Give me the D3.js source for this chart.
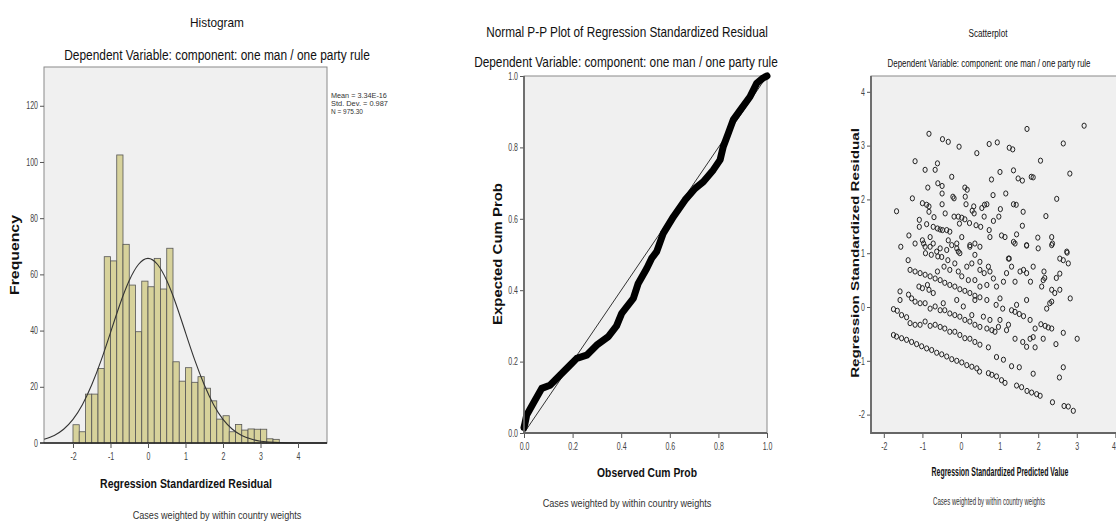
<!DOCTYPE html>
<html>
<head>
<meta charset="utf-8">
<script src="https://cdn.jsdelivr.net/npm/d3@7"></script>
<style>
  body { margin: 0; background: #fff; }
  svg { display: block; }
</style>
</head>
<body>
<div id="chart"></div>
<script>
// ---------------- datos ----------------
// Histograma de residuos
const histBinStart = -2;
const histBinWidth = 1 / 6;
const histCounts = [6.5, 4, 17.4, 17.4, 26.5, 66.3, 64.8, 102.5, 70.7, 56.2, 39.6,
  57.6, 55.6, 65.7, 54.8, 69.3, 28.9, 22, 26.8, 21.6, 23.6, 19.5, 15, 8.5, 9.7,
  4, 6.6, 4.6, 5, 4.9, 4.9, 1.5, 1.3];
const histStats = ["Mean = 3.34E-16", "Std. Dev. = 0.987", "N = 975.30"];
// curva normal [x, frecuencia]
const normalCurve = [[-2.77, 1.3], [-2.5, 2.7], [-2.25, 4.9], [-2, 8.4], [-1.75, 13.6],
  [-1.5, 20.7], [-1.25, 29.4], [-1, 39.3], [-0.75, 49.3], [-0.5, 57.8], [-0.25, 63.6],
  [0, 65.7], [0.25, 63.6], [0.5, 57.8], [0.75, 49.3], [1, 39.3], [1.25, 29.4],
  [1.5, 20.7], [1.75, 13.6], [2, 8.4], [2.25, 4.9], [2.5, 2.7], [2.75, 1.4],
  [3, 0.65], [3.5, 0.12], [4, 0.02], [4.77, 0]];
const histXTicks = [-2, -1, 0, 1, 2, 3, 4];
const histYTicks = [0, 20, 40, 60, 80, 100, 120];

// Grafico P-P
const ppObserved = [0, 0.004, 0.011, 0.038, 0.073, 0.107, 0.148, 0.189, 0.217, 0.258,
  0.299, 0.347, 0.381, 0.402, 0.45, 0.47, 0.505, 0.525, 0.546, 0.573, 0.615, 0.663,
  0.704, 0.738, 0.779, 0.807, 0.82, 0.841, 0.861, 0.896, 0.93, 0.958, 0.985, 1.0];
const ppExpected = [0.015, 0.027, 0.05, 0.083, 0.125, 0.134, 0.162, 0.19, 0.209, 0.218,
  0.246, 0.27, 0.3, 0.335, 0.377, 0.419, 0.461, 0.489, 0.508, 0.559, 0.606, 0.653,
  0.685, 0.704, 0.737, 0.765, 0.802, 0.84, 0.877, 0.91, 0.942, 0.98, 0.995, 1.0];
const ppTicks = [0, 0.2, 0.4, 0.6, 0.8, 1];

// Dispersion: [valor predicho, residuo]
const scatterPoints = [
  [-0.83,3.22],[-0.48,3.12],[-0.33,3.07],[-0.05,2.98],[0.41,2.86],[0.73,3.03],[0.94,3.06],
  [1.25,2.96],[1.34,2.93],[1.71,3.31],[2.06,2.72],[2.65,3.04],[3.19,3.37],
  [-1.19,2.71],[-0.61,2.67],[-0.93,2.55],[-0.67,2.55],[-0.24,2.42],[-0.86,2.22],[-0.6,2.3],
  [-0.49,2.25],[0.1,2.22],[0.16,2.18],[0.79,2.37],[1.01,2.51],[1.36,2.54],[1.48,2.39],
  [1.59,2.35],[1.82,2.42],[1.87,2.41],[2.82,2.48],
  [-1.67,1.78],[-1.26,2.02],[-1,1.93],[-0.89,1.9],[-0.83,1.87],[-0.83,1.77],[-0.7,1.67],
  [-0.49,2.11],[-0.49,1.91],[-0.41,1.74],[-0.21,2.05],[-0.18,2.02],[0.11,2.05],[0.13,1.91],
  [0.33,1.87],[0.29,1.79],[0.54,1.84],[0.61,1.9],[0.67,1.91],[0.83,2.08],[1.16,2.11],
  [1.36,1.91],[1.43,1.9],[1.02,1.82],[0.98,1.68],[1.61,1.77],[2.48,2.01],[2.2,1.69],
  [-1.08,1.62],[-1.08,1.49],[-0.89,1.54],[-0.72,1.49],[-0.61,1.46],[-0.54,1.44],[-0.48,1.43],
  [-0.37,1.43],[-0.29,1.4],[-0.18,1.68],[-0.07,1.68],[0.02,1.66],[0.1,1.63],[0.22,1.56],
  [-0.04,1.55],[0.34,1.74],[0.39,1.52],[0.51,1.49],[0.6,1.68],[0.84,1.6],[0.73,1.43],
  [0.75,1.3],[1.05,1.33],[1.14,1.3],[1.44,1.35],[1.36,1.21],[1.59,1.51],[1.7,1.14],
  [1.99,1.29],[2.35,1.3],[2.37,1.18],
  [-1.35,1.33],[-1.56,1.12],[-1.19,1.18],[-1,1.24],[-0.93,1.12],[-0.8,1.3],[-0.72,1.18],
  [-0.54,1.09],[-0.33,1.24],[-0.24,1.15],[-0.11,1.18],[-0.07,1.03],[0.02,1.3],[0.23,1.12],
  [0.36,1.18],[0.49,1.12],[2.74,1.03],[-0.92,1],[-0.77,0.97],[-0.6,0.94],
  [-0.97,1.18],[-0.8,1.12],[-0.63,1.03],[-0.5,0.93],[-0.37,1.06],[-0.11,1.09],[-0.03,1],
  [0.23,1.15],[0.36,0.97],[0.49,0.84],[0.71,0.75],[0.84,0.53],[1.1,0.47],[1.23,0.9],
  [1.4,1.18],[1.7,1.15],[2,1.09],[2.35,1.15],[2.13,0.5],[2.56,0.62],[2.3,0.07],[-1.37,0.87],
  // banda inferior
  [-1.75,-0.52],[-1.67,-0.55],[-1.54,-0.58],[-1.41,-0.61],[-1.28,-0.65],[-1.15,-0.69],
  [-1.02,-0.73],[-0.89,-0.77],[-0.76,-0.8],[-0.63,-0.85],[-0.5,-0.88],[-0.37,-0.92],
  [-0.24,-0.97],[-0.11,-1],[0.02,-1.03],[0.15,-1.08],[0.28,-1.11],[0.41,-1.14],[0.48,-1.2],
  [0.71,-1.23],[0.8,-1.26],[0.92,-1.29],[1.05,-1.36],[1.14,-1.41],[1.44,-1.46],[1.57,-1.49],
  [1.71,-1.56],[1.83,-1.59],[1.96,-1.62],[2.05,-1.65],[2.37,-1.77],[2.67,-1.84],[2.78,-1.85],
  [2.91,-1.93],
  // segunda banda
  [-1.75,-0.04],[-1.65,-0.07],[-1.54,-0.15],[-1.41,-0.19],[-1.32,-0.3],[-1.19,-0.33],
  [-1.06,-0.33],[-0.93,-0.27],[-0.8,-0.35],[-0.67,-0.33],[-0.54,-0.37],[-0.42,-0.4],
  [-0.29,-0.46],[-0.16,-0.46],[-0.03,-0.52],[0.1,-0.58],[0.23,-0.59],[0.36,-0.65],
  [0.49,-0.7],[0.71,-0.75],[0.92,-0.93],[1.1,-0.98],[1.31,-1.1],[1.51,-1.12],[1.87,-1.24],
  [2.55,-1.31],[2.65,-1.12],
  // tercera banda
  [-1.58,0.29],[-1.58,0.13],[-1.36,0.23],[-1.28,0.16],[-1.19,0.1],[-1.06,0.07],[-0.93,0.07],
  [-0.8,-0.03],[-0.67,0.01],[-0.54,-0.06],[-0.42,-0.06],[-0.29,-0.12],[-0.16,-0.15],
  [-0.03,-0.18],[0.1,-0.24],[0.23,-0.27],[0.36,-0.33],[0.49,-0.37],[0.67,-0.4],[0.8,-0.43],
  [0.88,-0.46],[1.01,-0.24],[1.23,-0.33],[1.4,-0.09],[1.51,-0.13],[1.62,-0.17],[1.79,-0.24],
  [1.92,-0.4],[2.07,-0.32],[2.18,-0.35],[2.26,-0.38],[2.35,-0.4],[2.65,-0.48],[3.01,-0.59],
  [1.4,-0.59],[1.6,-0.65],[1.79,-0.59],[1.92,-0.75],[2.13,-0.59],[2.46,-0.69],
  // cuarta banda
  [-1.32,0.69],[-1.19,0.66],[-1.06,0.63],[-0.93,0.6],[-0.8,0.57],[-0.67,0.53],[-0.54,0.5],
  [-0.42,0.45],[-0.29,0.41],[-0.16,0.38],[-0.03,0.33],[0.1,0.3],[0.23,0.26],[0.36,0.21],
  [0.49,0.18],[0.67,0.13],[0.91,0.04],[1.08,-0.03],[1.31,-0.06],
  // zona central
  [-1.09,0.38],[-1,0.35],[-0.87,0.41],[-0.83,0.32],[-0.72,0.26],[-0.61,0.66],[-0.44,0.75],
  [-0.34,0.87],[-0.29,0.69],[-0.16,0.81],[-0.07,0.66],[0.02,0.57],[0.15,0.75],[0.28,0.81],
  [0.36,0.5],[0.49,0.69],[0.6,0.63],[0.75,0.66],[0.92,0.38],[1.18,0.63],[1.25,0.9],
  [1.31,0.75],[1.4,0.47],[1.53,0.66],[1.62,0.69],[1.7,0.63],[1.8,0.47],[1.87,0.75],
  [2.09,0.38],[2.15,0.66],[2.17,0.54],[2.35,0.32],[2.43,0.26],[2.47,0.54],[2.56,0.9],
  [2.65,0.87],[2.78,0.81],[2.75,1.01],[2.83,0.16],[2.56,0.32],[2.35,0.1],[2.22,-0.03],
  [1.7,0.13],[1.44,0.04],[1.01,0.16],[0.67,0.41],[0.49,0.38],[0.19,0.5],[-0.11,0.13],
  [-0.46,0.07],[0.06,0.01],[0.28,-0.15],[0.36,0.13],[0.58,-0.18],[0.75,-0.24],[0.97,-0.37],
  [1.18,-0.43],[1.7,-0.74],[1.87,-0.56]
];
const scatterXTicks = [-2, -1, 0, 1, 2, 3, 4];
const scatterYTicks = [-2, -1, 0, 1, 2, 3, 4];

const subtitle = "Dependent Variable: component: one man / one party rule";
const footnote = "Cases weighted by within country weights";

// ---------------- svg ----------------
const W = 1116, H = 522;
const FONT = "'Liberation Sans',Arial,sans-serif";

const svg = d3.select("#chart").append("svg")
    .attr("width", W)
    .attr("height", H)
    .style("font-family", FONT);

// texto comprimido horizontalmente hasta el ancho "len" (la imagen original esta estrechada)
function label(x, y, txt, size, len, opts = {}) {
  const t = svg.append("text")
      .attr("x", 0).attr("y", 0)
      .attr("text-anchor", opts.anchor || "middle")
      .attr("font-size", size)
      .attr("fill", opts.fill || "#111")
      .attr("font-weight", opts.bold ? "bold" : null)
      .text(txt);
  const k = len ? len / t.node().getComputedTextLength() : 1;
  const rot = opts.rotate ? " rotate(-90)" : "";
  t.attr("transform", `translate(${x},${y})${rot} scale(${k},1)`);
  return t;
}

function frame(x0, x1, y0, y1) {
  svg.append("rect")
      .attr("x", x0).attr("y", y0)
      .attr("width", x1 - x0).attr("height", y1 - y0)
      .attr("fill", "#f0f0f0")
      .attr("stroke", "#8a8a8a")
      .attr("stroke-width", 1);
}

// etiquetas de ejes estrechas, como en la salida de SPSS
function styleAxis(g) {
  g.select(".domain").remove();
  g.selectAll(".tick line").attr("stroke", "#555");
  g.selectAll(".tick text")
      .attr("fill", "#444")
      .attr("font-size", 10)
      .each(function () {
        const w = this.getComputedTextLength();
        d3.select(this).attr("textLength", w * 0.7).attr("lengthAdjust", "spacingAndGlyphs");
      });
}

const intFmt = d => String(d);
const decFmt = d => d.toFixed(1);

// ================= Histograma =================
const hx = d3.scaleLinear().domain([-2.773, 4.773]).range([44, 327]);
const hy = d3.scaleLinear().domain([0, 133.8]).range([443, 67]);

frame(44, 327, 67, 443);

svg.append("g")
    .selectAll("rect")
    .data(histCounts)
    .join("rect")
    .attr("x", (d, i) => hx(histBinStart + i * histBinWidth))
    .attr("width", hx(histBinWidth) - hx(0))
    .attr("y", d => hy(d))
    .attr("height", d => hy(0) - hy(d))
    .attr("fill", "#d7d29b")
    .attr("stroke", "#555")
    .attr("stroke-width", 0.8);

svg.append("path")
    .datum(normalCurve)
    .attr("fill", "none")
    .attr("stroke", "#333")
    .attr("stroke-width", 1.1)
    .attr("d", d3.line().x(d => hx(d[0])).y(d => hy(d[1])).curve(d3.curveNatural));

svg.append("line")
    .attr("x1", 40).attr("x2", 327)
    .attr("y1", hy(0)).attr("y2", hy(0))
    .attr("stroke", "#222").attr("stroke-width", 1.6);

svg.append("g")
    .attr("transform", "translate(44,0)")
    .call(d3.axisLeft(hy).tickValues(histYTicks).tickSize(4).tickPadding(2).tickFormat(intFmt))
    .call(styleAxis);

svg.append("g")
    .attr("transform", `translate(0,${hy(0)})`)
    .call(d3.axisBottom(hx).tickValues(histXTicks).tickSize(5).tickPadding(5).tickFormat(intFmt))
    .call(styleAxis);

const statW = [56, 57, 32];
histStats.forEach((s, i) => {
  label(331, 98 + i * 8, s, 7.5, statW[i], { anchor: "start", fill: "#333" });
});

label(217, 27, "Histogram", 13, 54);
label(217, 60, subtitle, 15, 306);
label(19, 255, "Frequency", 12, 80, { bold: true, rotate: true });
label(186, 488, "Regression Standardized Residual", 13, 172, { bold: true });
label(217, 519, footnote, 11, 169, { fill: "#333" });

// ================= Grafico P-P =================
const px = d3.scaleLinear().domain([0, 1]).range([524, 767]);
const py = d3.scaleLinear().domain([0, 1]).range([433, 76]);

frame(524, 767, 76, 433);

svg.append("line")
    .attr("x1", px(0)).attr("y1", py(0))
    .attr("x2", px(1)).attr("y2", py(1))
    .attr("stroke", "#333").attr("stroke-width", 1);

svg.append("path")
    .datum(d3.zip(ppObserved, ppExpected))
    .attr("fill", "none")
    .attr("stroke", "#000")
    .attr("stroke-width", 7)
    .attr("stroke-linecap", "round")
    .attr("stroke-linejoin", "round")
    .attr("d", d3.line().x(d => px(d[0])).y(d => py(d[1])));

svg.append("g")
    .attr("transform", "translate(524,0)")
    .call(d3.axisLeft(py).tickValues(ppTicks).tickSize(4).tickPadding(2).tickFormat(decFmt))
    .call(styleAxis);

svg.append("g")
    .attr("transform", "translate(0,433)")
    .call(d3.axisBottom(px).tickValues(ppTicks).tickSize(5).tickPadding(5).tickFormat(decFmt))
    .call(styleAxis);

svg.append("path")
    .attr("d", "M524,76V433H767")
    .attr("fill", "none").attr("stroke", "#666").attr("stroke-width", 1.8);

label(627, 37, "Normal P-P Plot of Regression Standardized Residual", 14, 282);
label(626, 67, subtitle, 15, 304);
label(502, 254, "Expected Cum Prob", 12, 142, { bold: true, rotate: true });
label(647, 477, "Observed Cum Prob", 13, 100, { bold: true });
label(627, 507, footnote, 11, 169, { fill: "#333" });

// ================= Dispersion =================
const sx = d3.scaleLinear().domain([-2.332, 4.016]).range([871, 1116]);
const sy = d3.scaleLinear().domain([-2.342, 4.294]).range([433, 76]);

frame(871, 1130, 76, 433);

svg.append("g")
    .selectAll("ellipse")
    .data(scatterPoints)
    .join("ellipse")
    .attr("cx", d => sx(d[0]))
    .attr("cy", d => sy(d[1]))
    .attr("rx", 2.1)
    .attr("ry", 2.6)
    .attr("fill", "none")
    .attr("stroke", "#222")
    .attr("stroke-width", 1);

svg.append("g")
    .attr("transform", "translate(871,0)")
    .call(d3.axisLeft(sy).tickValues(scatterYTicks).tickSize(4).tickPadding(2).tickFormat(intFmt))
    .call(styleAxis);

svg.append("g")
    .attr("transform", "translate(0,433)")
    .call(d3.axisBottom(sx).tickValues(scatterXTicks).tickSize(5).tickPadding(5).tickFormat(intFmt))
    .call(styleAxis)
    .call(g => g.selectAll(".tick text").filter(d => d === 4).attr("x", -2));

svg.append("path")
    .attr("d", "M871,76V433H1130")
    .attr("fill", "none").attr("stroke", "#666").attr("stroke-width", 1.8);

label(988, 37, "Scatterplot", 11, 39);
label(989, 67, subtitle, 11, 203);
label(859, 253, "Regression Standardized Residual", 11, 250, { bold: true, rotate: true });
label(1000, 476, "Regression Standardized Predicted Value", 12, 137, { bold: true });
label(989, 505, footnote, 10, 112, { fill: "#333" });
</script>
</body>
</html>
